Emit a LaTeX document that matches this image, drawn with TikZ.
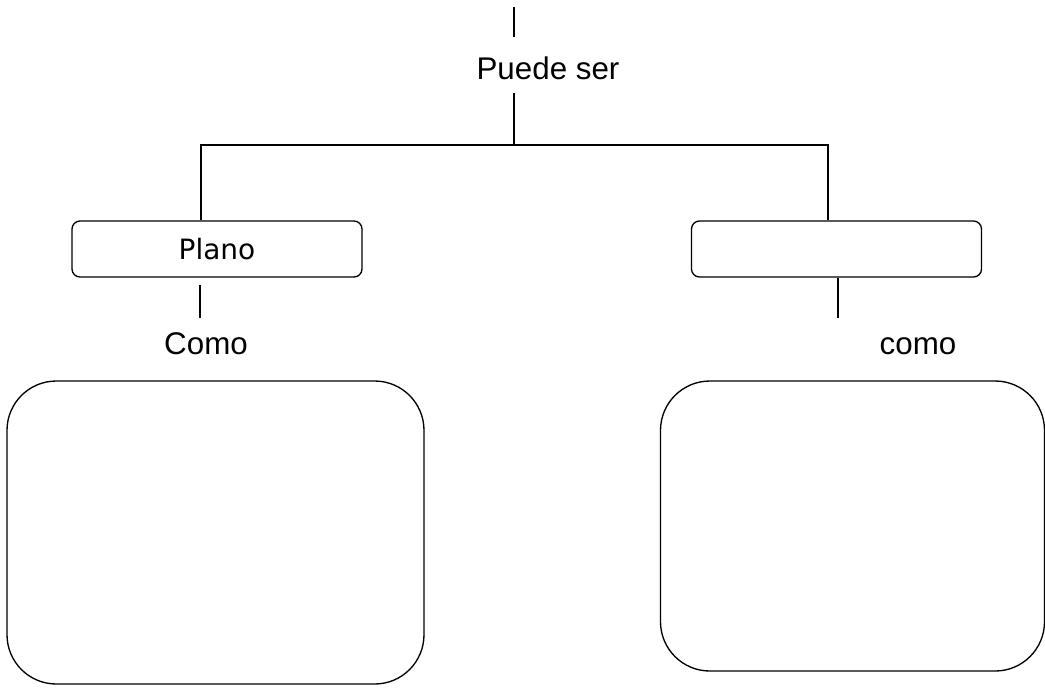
\documentclass[tikz,border=0pt]{standalone}
\usepackage{fontspec}
\setmainfont{Liberation Sans}
\newfontfamily\boxfont{DejaVu Sans}
\usepackage{tikz}
\usetikzlibrary{positioning}

\begin{document}
\begin{tikzpicture}[x=0.75pt,y=-0.75pt,line width=1pt,
    labeltext/.style={inner sep=0pt, anchor=base, font=\fontsize{23.5}{28}\selectfont},
    smallbox/.style={rectangle, draw, rounded corners=6pt, minimum width=217.5pt, minimum height=42pt, inner sep=0pt, font=\boxfont\fontsize{21}{25}\selectfont},
    bigbox/.style={rectangle, draw, rounded corners=37pt, inner sep=0pt}]
            \useasboundingbox (0,0) rectangle (1045,687);
            \node[labeltext] (puede) at (548,79) {Puede ser};
            \node[smallbox] (plano) at (217,249) {Plano};
            \node[smallbox] (otro) at (836.5,249) {};
            \node[labeltext] (comoL) at (206,354) {Como};
            \node[labeltext] (comoR) at (918,354) {como};
            \node[bigbox, minimum width=312.75pt, minimum height=227.25pt] (boxL) at (215.5,532.5) {};
            \node[bigbox, minimum width=288pt, minimum height=217.5pt] (boxR) at (852.5,526) {};
            % joints of the tree
            \coordinate (top) at (514,7);
            \coordinate (topend) at (514,37);
            \coordinate (splitup) at (514,93);
            \coordinate (split) at (514,145);
            \coordinate (jl) at (201,145);
            \coordinate (jr) at (828,145);
            \coordinate (cl) at (200,285);
            \coordinate (clend) at (200,318);
            \coordinate (cr) at (838,318);
            \draw (top) -- (topend);
            \draw (splitup) -- (split);
            \draw (jl |- plano.north) -- (jl) -- (jr) -- (jr |- otro.north);
            \draw (cl) -- (clend);
            \draw (cr |- otro.south) -- (cr);
        \end{tikzpicture}
\end{document}
